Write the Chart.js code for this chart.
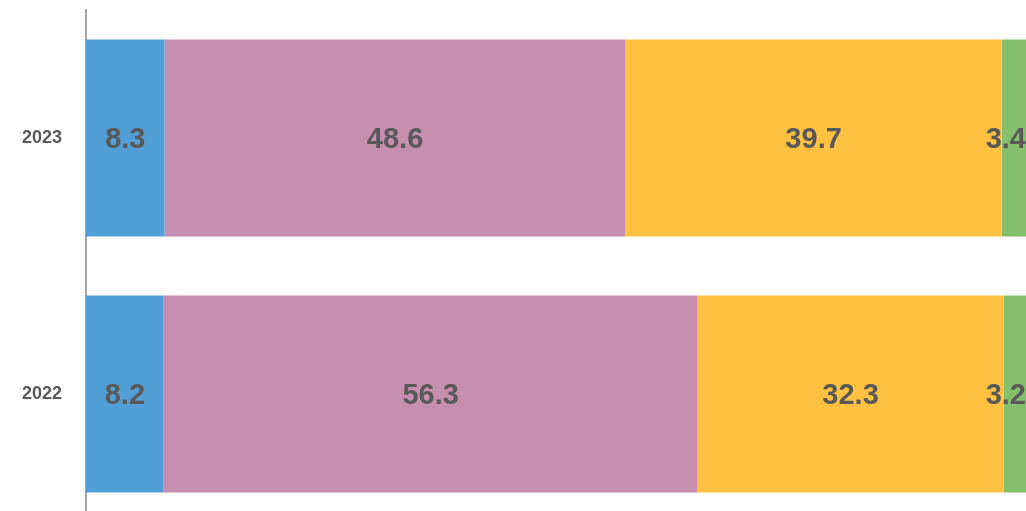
<!DOCTYPE html>
<html><head><meta charset="utf-8">
<script src="https://cdn.jsdelivr.net/npm/chart.js@4/dist/chart.umd.min.js"></script>
<style>
html,body{margin:0;padding:0;overflow:hidden;background:#fff;}
canvas{position:absolute;left:0;top:0;display:block;}
</style></head>
<body><canvas id="c" width="1034" height="522" style="width:1034px;height:522px"></canvas>
<script>
const categories = ["2023", "2022"];
const seriesA = [8.3, 8.2];
const seriesB = [48.6, 56.3];
const seriesC = [39.7, 32.3];
const seriesD = [3.4, 3.2];
const colors = ["#529FD7", "#C68EAF", "#FFC13F", "#86BF6C"];

const labelPlugin = {
  id: 'barLabels',
  afterDatasetsDraw(chart) {
    const ctx = chart.ctx;
    ctx.save();
    ctx.font = 'bold 29px "Liberation Sans", Arial, sans-serif';
    ctx.fillStyle = '#595959';
    ctx.textBaseline = 'middle';
    ctx.textAlign = 'center';
    const visibleRight = 1026;
    chart.data.datasets.forEach((ds, di) => {
      chart.getDatasetMeta(di).data.forEach((el, i) => {
        const txt = ds.data[i].toFixed(1);
        const w = ctx.measureText(txt).width;
        const left = el.base, right = el.x;
        let x = (left + right) / 2;
        if (x + w / 2 > visibleRight) x = visibleRight - w / 2;
        ctx.fillText(txt, x, el.y + 1.5);
      });
    });
    ctx.restore();
  }
};

new Chart(document.getElementById('c'), {
  type: 'bar',
  data: {
    labels: categories,
    datasets: [
      { data: seriesA, backgroundColor: colors[0] },
      { data: seriesB, backgroundColor: colors[1] },
      { data: seriesC, backgroundColor: colors[2] },
      { data: seriesD, backgroundColor: colors[3] }
    ]
  },
  options: {
    indexAxis: 'y',
    responsive: false,
    devicePixelRatio: 1,
    animation: false,
    layout: { padding: { top: 10, left: 0, right: 0, bottom: 0 } },
    datasets: { bar: { categoryPercentage: 0.77, barPercentage: 1, borderWidth: 0 } },
    plugins: { legend: { display: false }, tooltip: { enabled: false } },
    scales: {
      x: { stacked: true, min: 0, max: 100, display: false },
      y: {
        stacked: true,
        grid: { display: false, drawTicks: false },
        border: { display: true, color: '#A6A6A6', width: 2 },
        ticks: {
          color: '#595959',
          padding: 24,
          font: { family: '"Liberation Sans", Arial, sans-serif', size: 18, weight: 'bold' }
        },
        afterFit(scale) {
          scale.width = 86;
          scale.paddingTop = 0;
          scale.paddingBottom = 0;
        }
      }
    }
  },
  plugins: [labelPlugin]
});
</script>
</body></html>
